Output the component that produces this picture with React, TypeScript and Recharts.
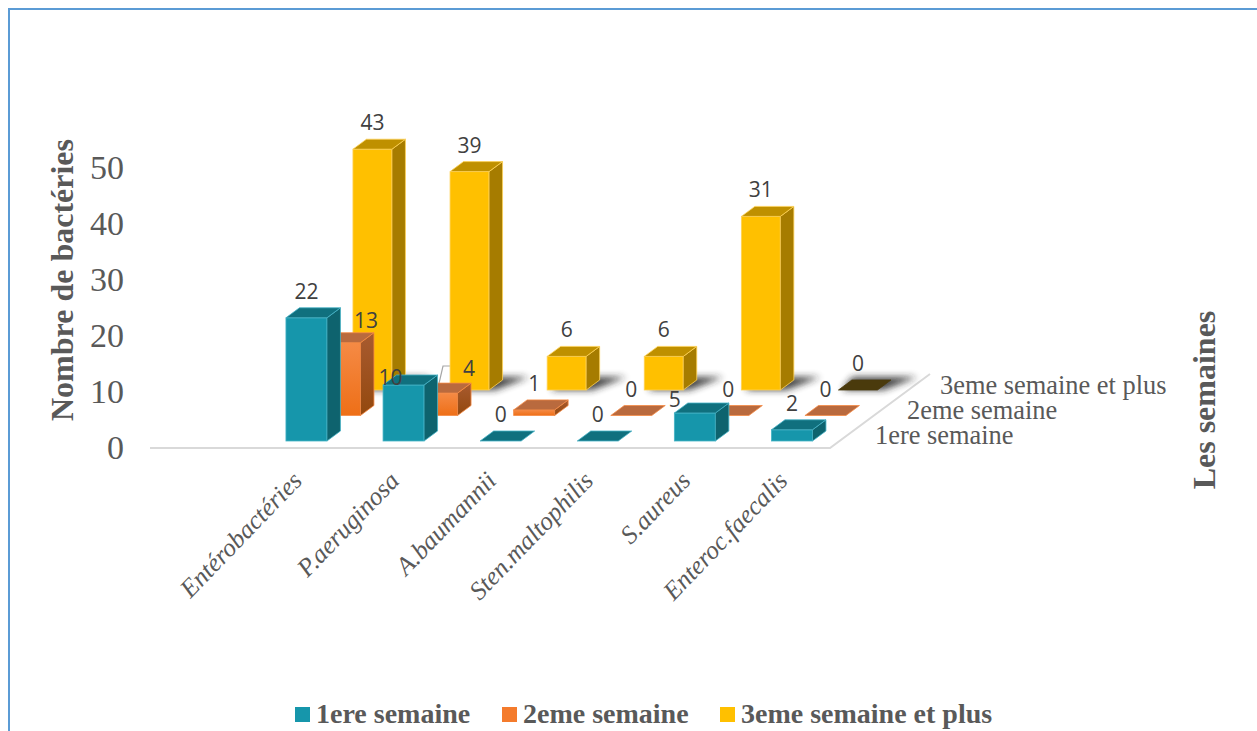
import React from "react";
import { BarChart, Bar, XAxis, YAxis, LabelList, Legend, Customized } from "recharts";

const bacteria = ["Entérobactéries", "P.aeruginosa", "A.baumannii", "Sten.maltophilis", "S.aureus", "Enteroc.faecalis"];
const week1 = [22, 10, 0, 0, 5, 2];
const week2 = [13, 4, 1, 0, 0, 0];
const week3 = [43, 39, 6, 6, 31, 0];
const yTicks = [0, 10, 20, 30, 40, 50];

const SERIES_1 = "1ere semaine";
const SERIES_2 = "2eme semaine";
const SERIES_3 = "3eme semaine et plus";

const rows = bacteria.map((name, i) => ({ name, w1: week1[i], w2: week2[i], w3: week3[i] }));

const SERIF = "'Liberation Serif', 'Times New Roman', serif";
const GREY = "#595959";
const DEPTH_X = 13.5;
const DEPTH_Y = 10;

type Palette = { front: string; top: string; side: string; edge: string };
const teal: Palette = { front: "#1696ab", top: "#10707e", side: "#0e636e", edge: "#45b3c6" };
const orange: Palette = { front: "url(#orangeFront)", top: "#b96a3e", side: "url(#orangeSide)", edge: "#f58a45" };
const gold: Palette = { front: "#ffc000", top: "#bf9000", side: "#a67c00", edge: "#ffd257" };
const flatGold: Palette = { ...gold, top: "#4a3a0c", edge: "#4a3a0c" };

// Extruded box: front face from the scale, plus a receding top and right side.
function Box3D(props: any) {
  const { x, y, width: w, height: h, palette, shadow, value } = props;
  const p: Palette = shadow && value === 0 ? flatGold : palette;
  const b = y + h;
  return (
    <g>
      {shadow && (
        <polygon
          points={`${x + 4},${b} ${x + w + 6},${b} ${x + w + 40},${b - DEPTH_Y - 3} ${x + 14},${b - DEPTH_Y - 3}`}
          fill="#222"
          opacity={0.85}
          filter="url(#floorBlur)"
        />
      )}
      {h > 0 && <rect x={x} y={y} width={w} height={h} fill={p.front} stroke={p.edge} strokeWidth={0.8} />}
      {h > 0 && (
        <polygon
          points={`${x + w},${y} ${x + w + DEPTH_X},${y - DEPTH_Y} ${x + w + DEPTH_X},${b - DEPTH_Y} ${x + w},${b}`}
          fill={p.side}
          stroke={p.edge}
          strokeWidth={0.8}
        />
      )}
      <polygon
        points={`${x},${y} ${x + DEPTH_X},${y - DEPTH_Y} ${x + w + DEPTH_X},${y - DEPTH_Y} ${x + w},${y}`}
        fill={p.top}
        stroke={p.edge}
        strokeWidth={0.8}
      />
    </g>
  );
}

// Value above a bar; nudges move the labels that would otherwise collide.
function valueLabel(nudges: Record<number, [number, number]>) {
  return (props: any) => {
    const { x, y, width, value, index } = props;
    const [dx, dy] = nudges[index] ?? [0, 0];
    return (
      <text
        x={x + width / 2 + dx}
        y={y - 27 + dy}
        textAnchor="middle"
        dominantBaseline="central"
        fontFamily="'Open Sans', sans-serif"
        fontSize={21}
        fill="#404040"
      >
        {value}
      </text>
    );
  };
}

const nudgesWeek1: Record<number, [number, number]> = { 1: [-13, 19], 4: [-20, 13] };
const nudgesWeek2: Record<number, [number, number]> = { 0: [26, 4], 1: [32, 2] };
const nudgesWeek3: Record<number, [number, number]> = {};

// Slanted category name, its end anchored just under the bar group.
function CategoryTick({ x, y, payload }: any) {
  const ax = x - 3;
  const ay = y - 17;
  return (
    <text
      x={ax}
      y={ay}
      transform={`rotate(-46 ${ax} ${ay})`}
      textAnchor="end"
      fontFamily={SERIF}
      fontStyle="italic"
      fontSize={25.6}
      fill={GREY}
    >
      {payload.value}
    </text>
  );
}

// Floor edges of the 3D box.
function Floor() {
  return <polyline points="150,448 830,448 930,374" fill="none" stroke="#d9d9d9" strokeWidth={2} />;
}

// Depth captions, axis titles and the leader line of the "4" label.
function Annotations() {
  const depthStyle = { fontFamily: SERIF, fontSize: 26.4, fill: GREY };
  return (
    <g>
      <polyline points="437,392 443,366 454,366" fill="none" stroke="#a6a6a6" strokeWidth={1.2} />
      <text x={940} y={394} {...depthStyle}>{SERIES_3}</text>
      <text x={907} y={419} {...depthStyle}>{SERIES_2}</text>
      <text x={875} y={444} {...depthStyle}>{SERIES_1}</text>
      <text
        transform="translate(73,280) rotate(-90)"
        textAnchor="middle"
        fontFamily={SERIF}
        fontWeight="bold"
        fontSize={32}
        fill={GREY}
      >
        Nombre de bactéries
      </text>
      <text
        transform="translate(1215,400) rotate(-90)"
        textAnchor="middle"
        fontFamily={SERIF}
        fontWeight="bold"
        fontSize={32}
        fill={GREY}
      >
        Les semaines
      </text>
    </g>
  );
}

const legendSwatch: Record<string, string> = { [SERIES_1]: "#1696ab", [SERIES_2]: "#f47b2c", [SERIES_3]: "#ffc000" };
const legendLeft: Record<string, number> = { [SERIES_1]: 295, [SERIES_2]: 502, [SERIES_3]: 720 };

function LegendRow({ payload }: any) {
  return (
    <div style={{ position: "relative", height: 30 }}>
      {(payload ?? [])
        .filter((entry: any) => legendLeft[entry.value] !== undefined)
        .map((entry: any) => (
          <div
            key={entry.value}
            style={{
              position: "absolute",
              left: legendLeft[entry.value],
              top: 0,
              display: "flex",
              alignItems: "center",
              whiteSpace: "nowrap",
              fontFamily: SERIF,
              fontWeight: "bold",
              fontSize: 28,
              color: GREY,
            }}
          >
            <span style={{ width: 15, height: 15, marginRight: 6, background: legendSwatch[entry.value] }} />
            {entry.value}
          </div>
        ))}
    </div>
  );
}

const hiddenY = { type: "number" as const, domain: [0, 50], hide: true };

export default function App() {
  return (
    <div style={{ position: "absolute", left: 0, top: 0, width: 1257, height: 731, background: "#fff", overflow: "hidden" }}>
      <div style={{ position: "absolute", left: 8, top: 8, width: 1249, height: 2, background: "#5b9bd5" }} />
      <div style={{ position: "absolute", left: 8, top: 8, width: 2, height: 723, background: "#5b9bd5" }} />
      <BarChart
        width={1257}
        height={731}
        data={rows}
        margin={{ top: 100, right: 307, bottom: 184, left: 94 }}
        style={{ position: "absolute", left: 0, top: 0 }}
      >
        <defs>
          <linearGradient id="orangeFront" x1="0" y1="0" x2="0" y2="1">
            <stop offset="0" stopColor="#f58a45" />
            <stop offset="1" stopColor="#ee6f17" />
          </linearGradient>
          <linearGradient id="orangeSide" x1="0" y1="0" x2="0" y2="1">
            <stop offset="0" stopColor="#a85b30" />
            <stop offset="1" stopColor="#93480e" />
          </linearGradient>
          <filter id="floorBlur" x="-30%" y="-100%" width="160%" height="300%">
            <feGaussianBlur stdDeviation="3.5" />
          </filter>
        </defs>

        <Customized component={Floor} />

        <XAxis
          xAxisId="front"
          dataKey="name"
          interval={0}
          height={100}
          padding={{ left: 107.95, right: 109.45 }}
          axisLine={false}
          tickLine={false}
          tickMargin={16}
          tick={<CategoryTick />}
        />
        <XAxis xAxisId="mid" dataKey="name" hide padding={{ left: 141.45, right: 75.95 }} />
        <XAxis xAxisId="back" dataKey="name" hide padding={{ left: 173.95, right: 43.45 }} />
        <XAxis xAxisId="wallX" dataKey="name" hide />

        <YAxis
          yAxisId="wall"
          type="number"
          domain={[0, 50]}
          ticks={yTicks}
          width={56}
          padding={{ top: 67, bottom: 0 }}
          axisLine={false}
          tickLine={false}
          tickMargin={20}
          tick={{ fontFamily: SERIF, fontSize: 34, fill: GREY }}
        />
        <YAxis yAxisId="y1" {...hiddenY} padding={{ top: 61, bottom: 6 }} />
        <YAxis yAxisId="y2" {...hiddenY} padding={{ top: 35.5, bottom: 31.5 }} />
        <YAxis yAxisId="y3" {...hiddenY} padding={{ top: 10, bottom: 57 }} />

        {/* Paints nothing; it only binds the visible value axis to the data */}
        <Bar
          dataKey="w3"
          xAxisId="wallX"
          yAxisId="wall"
          legendType="none"
          isAnimationActive={false}
          shape={() => null}
        />

        {/* Rearmost series first so nearer rows paint over it */}
        <Bar
          dataKey="w3"
          name={SERIES_3}
          xAxisId="back"
          yAxisId="y3"
          barSize={39}
          fill="#ffc000"
          isAnimationActive={false}
          shape={(p: any) => <Box3D {...p} palette={gold} shadow />}
        >
          <LabelList dataKey="w3" content={valueLabel(nudgesWeek3)} />
        </Bar>
        <Bar
          dataKey="w2"
          name={SERIES_2}
          xAxisId="mid"
          yAxisId="y2"
          barSize={41}
          fill="#f47b2c"
          isAnimationActive={false}
          shape={(p: any) => <Box3D {...p} palette={orange} />}
        >
          <LabelList dataKey="w2" content={valueLabel(nudgesWeek2)} />
        </Bar>
        <Bar
          dataKey="w1"
          name={SERIES_1}
          xAxisId="front"
          yAxisId="y1"
          barSize={41}
          fill="#1696ab"
          isAnimationActive={false}
          shape={(p: any) => <Box3D {...p} palette={teal} />}
        >
          <LabelList dataKey="w1" content={valueLabel(nudgesWeek1)} />
        </Bar>

        <Customized component={Annotations} />

        <Legend
          verticalAlign="middle"
          content={<LegendRow />}
          wrapperStyle={{ position: "absolute", left: 0, top: 698, width: 1257, height: 30 }}
        />
      </BarChart>
    </div>
  );
}
